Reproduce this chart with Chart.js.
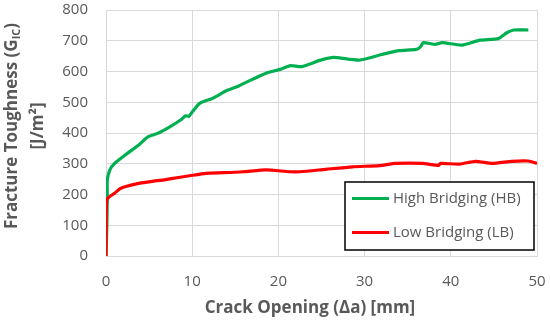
<!DOCTYPE html>
<html>
<head>
<meta charset="utf-8">
<script src="https://cdn.jsdelivr.net/npm/chart.js@4.4.1/dist/chart.umd.min.js"></script>
<style>
  html, body { margin: 0; padding: 0; background: #fff; }
  #wrap { width: 550px; height: 322px; }
</style>
</head>
<body>
<div id="wrap"><canvas id="gic_chart" width="550" height="322"></canvas></div>
<script>
// values
const hb_x = [0, 0.1, 0.15, 0.15, 0.45, 1.0, 2.2, 3.8, 4.9, 6.1, 7.4, 8.7, 9.25, 9.6, 10.0, 10.9, 12.4, 14.0, 15.4, 17.1, 18.7, 20.2, 21.4, 22.7, 24.9, 26.4, 29.4, 32.1, 34.0, 36.0, 36.5, 36.8, 38.2, 39.0, 41.3, 43.4, 45.5, 46.5, 47.3, 49.0];
const hb_y = [0, 100, 193, 247, 280, 301, 328, 361, 388, 400, 420, 443, 456, 454, 468, 497, 513, 538, 553, 576, 596, 607, 619, 616, 637, 646, 637, 656, 668, 672, 681, 694, 688, 694, 686, 702, 707, 726, 735, 735];

const lb_x = [0, 0.02, 0.05, 0.2, 1.0, 1.6, 2.2, 3.8, 5.9, 6.6, 8.6, 9.7, 11.6, 13.6, 15.9, 18.6, 21.3, 22.5, 25.5, 28.6, 31.7, 33.6, 36.7, 38.6, 38.8, 41.0, 42.9, 44.8, 47.1, 49.0, 50];
const lb_y = [0, 80, 171, 188, 204, 218, 225, 236, 245, 247, 256, 261, 269, 271, 274, 280, 274, 274, 282, 290, 294, 301, 301, 295, 301, 299, 308, 301, 308, 309, 301];

const series_labels = ['High Bridging (HB)', 'Low Bridging (LB)'];
const x_ticks = [0, 10, 20, 30, 40, 50];
const y_ticks = [0, 100, 200, 300, 400, 500, 600, 700, 800];

const grey = '#595959';
const grid_grey = '#d9d9d9';
const font_family = '"Open Sans", Lato, sans-serif';

function toPoints(xs, ys) {
    var pts = [];
    for (var i = 0; i < xs.length; i++) {
        pts.push({ x: xs[i], y: ys[i] });
    }
    return pts;
}

// axis titles (with subscript) and the boxed legend inside the plot
const decorations = {
    id: 'decorations',
    afterDraw(chart) {
        const ctx = chart.ctx;
        ctx.save();
        ctx.fillStyle = grey;

        // x title
        ctx.font = 'bold 17px ' + font_family;
        ctx.textAlign = 'center';
        ctx.textBaseline = 'middle';
        ctx.fillText('Crack Opening (\u0394a) [mm]', 310, 308);

        // y title, two lines, rotated
        ctx.save();
        ctx.translate(12, 126);
        ctx.rotate(-Math.PI / 2);
        const main = 'Fracture Toughness (G';
        const sub = 'IC';
        const close = ')';
        ctx.font = 'bold 17px ' + font_family;
        const w1 = ctx.measureText(main).width;
        const w3 = ctx.measureText(close).width;
        ctx.font = 'bold 11px ' + font_family;
        const w2 = ctx.measureText(sub).width;
        var sx = -(w1 + w2 + w3) / 2;
        ctx.textAlign = 'left';
        ctx.font = 'bold 17px ' + font_family;
        ctx.fillText(main, sx, 0);
        ctx.font = 'bold 11px ' + font_family;
        ctx.fillText(sub, sx + w1, 5);
        ctx.font = 'bold 17px ' + font_family;
        ctx.fillText(close, sx + w1 + w2, 0);
        ctx.textAlign = 'center';
        ctx.fillText('[J/m\u00b2]', 0, 26);
        ctx.restore();

        // legend box
        const bx = 345, by = 182, bw = 189, bh = 68;
        ctx.fillStyle = '#ffffff';
        ctx.fillRect(bx, by, bw, bh);
        ctx.strokeStyle = '#000000';
        ctx.lineWidth = 1.5;
        ctx.strokeRect(bx, by, bw, bh);
        ctx.font = '15px ' + font_family;
        ctx.textAlign = 'left';
        ctx.textBaseline = 'middle';
        chart.data.datasets.forEach(function (ds, i) {
            const ly = 198.5 + i * 34;
            ctx.strokeStyle = ds.borderColor;
            ctx.lineWidth = 3;
            ctx.beginPath();
            ctx.moveTo(352, ly);
            ctx.lineTo(389, ly);
            ctx.stroke();
            ctx.fillStyle = grey;
            ctx.fillText(ds.label, 393, ly);
        });
        ctx.restore();
    }
};

const chartdata = {
    datasets: [
        {
            label: series_labels[0],
            data: toPoints(hb_x, hb_y),
            borderColor: '#00b050',
            backgroundColor: '#00b050',
            borderWidth: 3.2,
            pointRadius: 0,
            tension: 0.2,
            order: 1
        },
        {
            label: series_labels[1],
            data: toPoints(lb_x, lb_y),
            borderColor: '#ff0000',
            backgroundColor: '#ff0000',
            borderWidth: 3.2,
            pointRadius: 0,
            tension: 0.2,
            order: 0
        }
    ]
};

const options = {
    responsive: false,
    animation: false,
    layout: { padding: { left: 0, right: 13, top: 10, bottom: 0 } },
    plugins: {
        legend: { display: false },
        tooltip: { enabled: false }
    },
    scales: {
        x: {
            type: 'linear',
            min: x_ticks[0],
            max: x_ticks[x_ticks.length - 1],
            afterFit: function (scale) {
                scale.height = 66;
                scale.paddingLeft = 0;
                scale.paddingRight = 0;
            },
            grid: { color: grid_grey, lineWidth: 1, drawTicks: false },
            border: { color: grid_grey },
            ticks: { stepSize: x_ticks[1] - x_ticks[0], color: grey, font: { size: 15, family: font_family }, padding: 17, maxRotation: 0 }
        },
        y: {
            type: 'linear',
            min: y_ticks[0],
            max: y_ticks[y_ticks.length - 1],
            afterFit: function (scale) {
                scale.width = 106;
                scale.paddingTop = 0;
                scale.paddingBottom = 0;
            },
            grid: { color: grid_grey, lineWidth: 1, drawTicks: false },
            border: { color: grid_grey },
            ticks: { stepSize: y_ticks[1] - y_ticks[0], color: grey, font: { size: 15, family: font_family }, padding: 18 }
        }
    }
};

new Chart(document.getElementById('gic_chart'), {
    type: 'line',
    data: chartdata,
    options: options,
    plugins: [decorations]
});
</script>
</body>
</html>
